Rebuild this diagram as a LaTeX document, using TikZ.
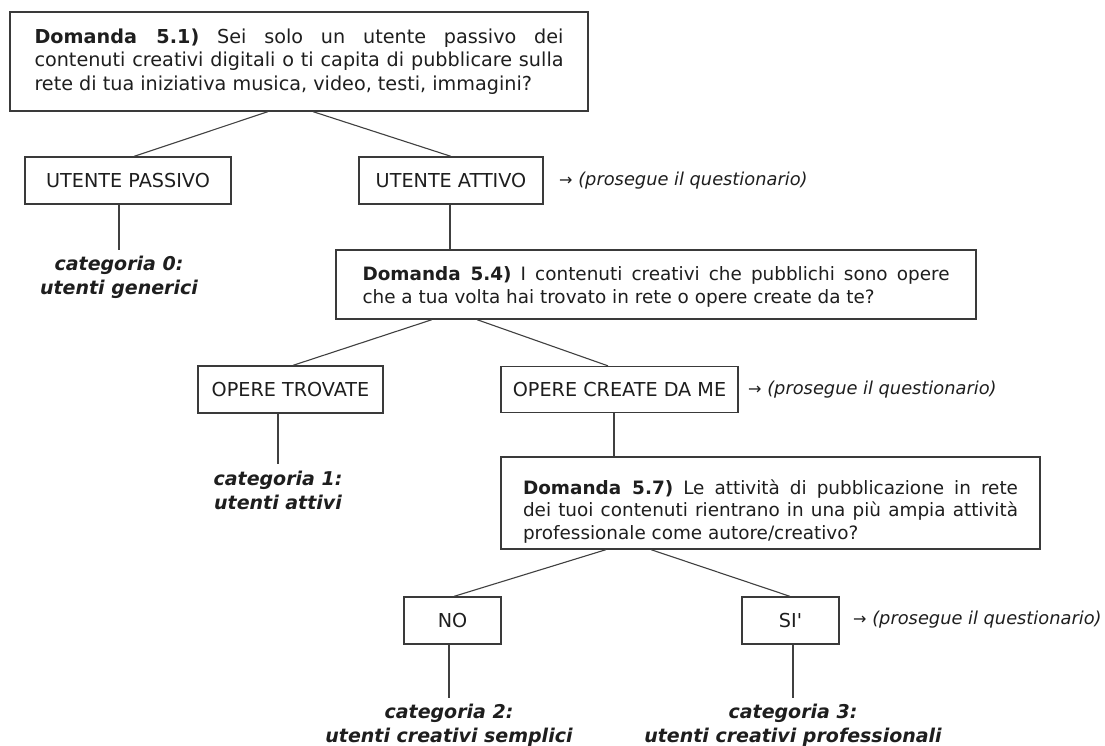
\documentclass[tikz,border=0pt]{standalone}
\usepackage{fontspec}
\setmainfont{DejaVu Sans}
\definecolor{txt}{HTML}{1E1E1E}
\definecolor{boxc}{HTML}{3A3A3A}
\definecolor{linec}{HTML}{404040}
\begin{document}
\begin{tikzpicture}[x=1pt,y=-1pt,
  box/.style={draw=boxc, line width=1.3pt, inner sep=0pt, text=txt, anchor=center},
  qbox/.style={box, align=justify},
  lbl/.style={box, minimum height=47pt, font=\fontsize{19.2}{23}\selectfont},
  conn/.style={draw=linec, line width=1.1pt},
  cat/.style={text=txt, inner sep=0pt, align=center, font=\fontsize{19}{24}\selectfont\bfseries\itshape},
  note/.style={text=txt, inner sep=0pt, anchor=west, font=\fontsize{17.8}{20}\selectfont}
]
\useasboundingbox[fill=white] (0,0) rectangle (1105,745);

% question boxes
\node[qbox, minimum width=578pt, minimum height=99pt, text width=529pt,
      font=\fontsize{19.2}{23.5}\selectfont] (q1) at (299,61.5)
  {\textbf{Domanda 5.1)} Sei solo un utente passivo dei\linebreak
   contenuti creativi digitali o ti capita di pubblicare sulla\linebreak
   rete di tua iniziativa musica, video, testi, immagini?};

\node[qbox, minimum width=640pt, minimum height=69pt, text width=587pt,
      font=\fontsize{18.4}{22.5}\selectfont] (q4) at (656,284.5)
  {\rule{0pt}{19pt}\textbf{Domanda 5.4)} I contenuti creativi che pubblichi sono opere\linebreak
   che a tua volta hai trovato in rete o opere create da te?};

\node[qbox, minimum width=539pt, minimum height=92pt, text width=495pt,
      font=\fontsize{18.4}{22.5}\selectfont] (q7) at (770.5,503)
  {\rule{0pt}{31pt}\textbf{Domanda 5.7)} Le attività di pubblicazione in rete\linebreak
   dei tuoi contenuti rientrano in una più ampia attività\linebreak
   professionale come autore/creativo?};

% answer boxes
\node[lbl, minimum width=206pt] (passivo) at (128,180.5) {UTENTE PASSIVO};
\node[lbl, minimum width=184pt] (attivo) at (451,180.5) {UTENTE ATTIVO};
\node[lbl, minimum width=185pt] (trovate) at (290.5,389.5) {OPERE TROVATE};
\node[lbl, minimum width=237pt, minimum height=46pt] (create) at (619.5,389.5) {OPERE CREATE DA ME};
\node[lbl, minimum width=97pt] (no) at (452.5,620.5) {NO};
\node[lbl, minimum width=97pt] (si) at (790.5,620.5) {SI{\addfontfeature{Ligatures=TeXOff}'}};

% notes
\node[note] (n1) at (559,181) {{\fontsize{16}{16}\selectfont →} \textit{(prosegue il questionario)}};
\node[note] (n2) at (748,390) {{\fontsize{16}{16}\selectfont →} \textit{(prosegue il questionario)}};
\node[note] (n3) at (853,620) {{\fontsize{16}{16}\selectfont →} \textit{(prosegue il questionario)}};

% categories
\node[cat] (c0) at (119,277) {categoria 0:\\utenti generici};
\node[cat] (c1) at (278,490) {categoria 1:\\utenti attivi};
\node[cat] (c2) at (449,725) {categoria 2:\\utenti creativi semplici};
\node[cat] (c3) at (793,725) {categoria 3:\\utenti creativi professionali};

% connectors
\draw[conn] ([xshift=-31pt]q1.south) -- ([xshift=6pt]passivo.north);
\draw[conn] ([xshift=14pt]q1.south) -- (attivo.north);
\draw[conn] (c0.north |- passivo.south) -- ([yshift=6pt]c0.north);
\draw[conn] ([xshift=-1pt]attivo.south) -- ([xshift=-1pt]attivo.south |- q4.north);

\draw[conn] ([xshift=-224pt]q4.south) -- ([xshift=2.5pt]trovate.north);
\draw[conn] ([xshift=-179pt]q4.south) -- ([xshift=-11.5pt]create.north);
\draw[conn] (c1.north |- trovate.south) -- ([yshift=6pt]c1.north);
\draw[conn] ([xshift=-5.5pt]create.south) -- ([xshift=-5.5pt]create.south |- q7.north);

\draw[conn] ([xshift=-164.5pt]q7.south) -- ([xshift=1.5pt]no.north);
\draw[conn] ([xshift=-119.5pt]q7.south) -- ([xshift=-0.5pt]si.north);
\draw[conn] (c2.north |- no.south) -- ([yshift=6pt]c2.north);
\draw[conn] (c3.north |- si.south) -- ([yshift=6pt]c3.north);
\end{tikzpicture}
\end{document}
